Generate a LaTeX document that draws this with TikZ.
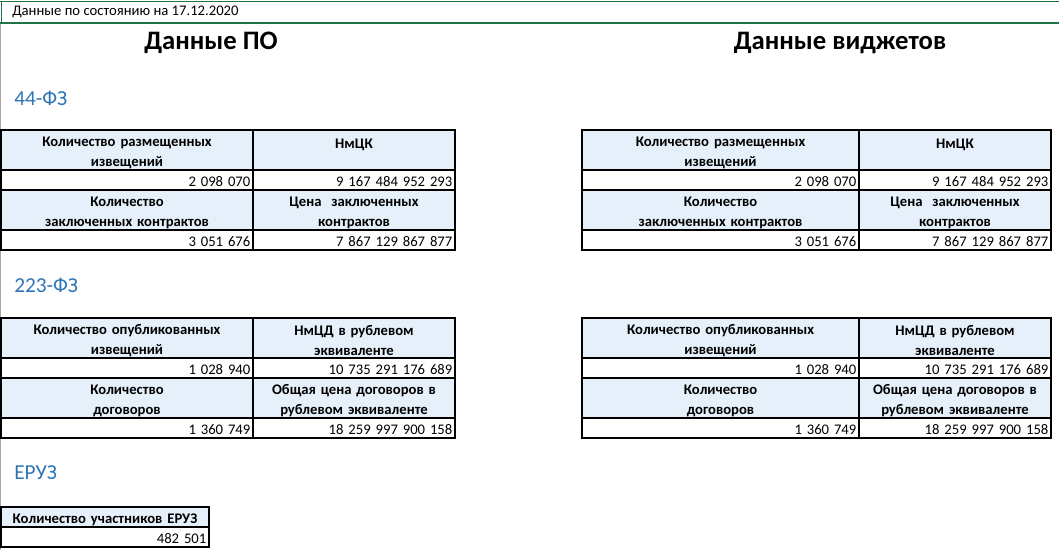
\documentclass[tikz,border=0pt]{standalone}
\usepackage{fontspec}
\setmainfont{Carlito}
\usetikzlibrary{positioning}

\definecolor{hdrfill}{HTML}{E6F0FA}
\definecolor{secblue}{HTML}{2E75B6}
\definecolor{sheetgreen}{HTML}{217346}
\newcommand{\cellfont}{\fontsize{11}{15}\selectfont}

\tikzset{
	hcell/.style={draw, fill=hdrfill, font=\cellfont\bfseries, align=center, text width=#1, minimum height=30pt, inner xsep=2pt, inner ysep=0pt, outer sep=0pt, line width=0.8pt, execute at begin node={\rule{0pt}{12pt}}},
	vcell/.style={draw, font=\cellfont, align=right, text width=#1, minimum height=15pt, inner xsep=2pt, inner ysep=0pt, outer sep=0pt, line width=0.8pt, execute at begin node={\rule{0pt}{9.5pt}}},
	sectitle/.style={anchor=west, inner sep=0pt, text=secblue, font=\fontsize{16}{19}\selectfont},
	bigtitle/.style={inner sep=0pt, font=\fontsize{20}{24}\selectfont\bfseries},
}

\begin{document}
\begin{tikzpicture}[x=0.75pt, y=-0.75pt, font=\cellfont]
		\useasboundingbox (0,0) rectangle (1059,550);
		
		% sheet frame
		\draw[gray!70, line width=0.75pt] (0.5,23) -- (0.5,550);
		\draw[sheetgreen, line width=1pt] (0,1.5) -- (1059,1.5);
		\draw[sheetgreen, line width=1pt] (1.5,1.5) -- (1.5,23);
		\draw[sheetgreen, line width=1.6pt] (0,23) -- (1059,23);
		
		\node[anchor=west, inner sep=0pt] (asof) at (12,12) {Данные по состоянию на 17.12.2020};
		\node[bigtitle] (titlepo) at (211,43) {Данные ПО};
		\node[bigtitle] (titlewd) at (840,43) {Данные виджетов};
		
		\node[sectitle] (sec44) at (14,98) {44-ФЗ};
		\node[sectitle] (sec223) at (14,285) {223-ФЗ};
		\node[sectitle] (seceruz) at (14,473) {ЕРУЗ};
		
		% 44-FZ, software
		\node[hcell=185pt, anchor=north west] (po44h1) at (1,130) {Количество размещенных\\извещений};
		\node[hcell=147.5pt, right=0pt of po44h1] (po44h2) {НмЦК\\\mbox{}};
		\node[vcell=185pt, below=0pt of po44h1] (po44v1) {2 098 070};
		\node[vcell=147.5pt, below=0pt of po44h2] (po44v2) {9 167 484 952 293};
		\node[hcell=185pt, below=0pt of po44v1] (po44h3) {Количество\\заключенных контрактов};
		\node[hcell=147.5pt, below=0pt of po44v2] (po44h4) {Цена\ \ заключенных\\контрактов};
		\node[vcell=185pt, below=0pt of po44h3] (po44v3) {3 051 676};
		\node[vcell=147.5pt, below=0pt of po44h4] (po44v4) {7 867 129 867 877};
		
		% 44-FZ, widgets
		\node[hcell=203.75pt, anchor=north west] (wd44h1) at (582,130) {Количество размещенных\\извещений};
		\node[hcell=140pt, right=0pt of wd44h1] (wd44h2) {НмЦК\\\mbox{}};
		\node[vcell=203.75pt, below=0pt of wd44h1] (wd44v1) {2 098 070};
		\node[vcell=140pt, below=0pt of wd44h2] (wd44v2) {9 167 484 952 293};
		\node[hcell=203.75pt, below=0pt of wd44v1] (wd44h3) {Количество\\заключенных контрактов};
		\node[hcell=140pt, below=0pt of wd44v2] (wd44h4) {Цена\ \ заключенных\\контрактов};
		\node[vcell=203.75pt, below=0pt of wd44h3] (wd44v3) {3 051 676};
		\node[vcell=140pt, below=0pt of wd44h4] (wd44v4) {7 867 129 867 877};
		
		% 223-FZ, software
		\node[hcell=185pt, anchor=north west] (po223h1) at (1,318) {Количество опубликованных\\извещений};
		\node[hcell=147.5pt, right=0pt of po223h1] (po223h2) {НмЦД в рублевом\\эквиваленте};
		\node[vcell=185pt, below=0pt of po223h1] (po223v1) {1 028 940};
		\node[vcell=147.5pt, below=0pt of po223h2] (po223v2) {10 735 291 176 689};
		\node[hcell=185pt, below=0pt of po223v1] (po223h3) {Количество\\договоров};
		\node[hcell=147.5pt, below=0pt of po223v2] (po223h4) {Общая цена договоров в\\рублевом эквиваленте};
		\node[vcell=185pt, below=0pt of po223h3] (po223v3) {1 360 749};
		\node[vcell=147.5pt, below=0pt of po223h4] (po223v4) {18 259 997 900 158};
		
		% 223-FZ, widgets
		\node[hcell=203.75pt, anchor=north west] (wd223h1) at (582,318) {Количество опубликованных\\извещений};
		\node[hcell=140pt, right=0pt of wd223h1] (wd223h2) {НмЦД в рублевом\\эквиваленте};
		\node[vcell=203.75pt, below=0pt of wd223h1] (wd223v1) {1 028 940};
		\node[vcell=140pt, below=0pt of wd223h2] (wd223v2) {10 735 291 176 689};
		\node[hcell=203.75pt, below=0pt of wd223v1] (wd223h3) {Количество\\договоров};
		\node[hcell=140pt, below=0pt of wd223v2] (wd223h4) {Общая цена договоров в\\рублевом эквиваленте};
		\node[vcell=203.75pt, below=0pt of wd223h3] (wd223v3) {1 360 749};
		\node[vcell=140pt, below=0pt of wd223h4] (wd223v4) {18 259 997 900 158};
		
		% ERUZ
		\node[hcell=152pt, minimum height=15pt, anchor=north west, execute at begin node={\rule{0pt}{9.5pt}}] (eruzh) at (1,507) {Количество участников ЕРУЗ};
		\node[vcell=152pt, below=0pt of eruzh] (eruzv) {482 501};
		
		\end{tikzpicture}
\end{document}
